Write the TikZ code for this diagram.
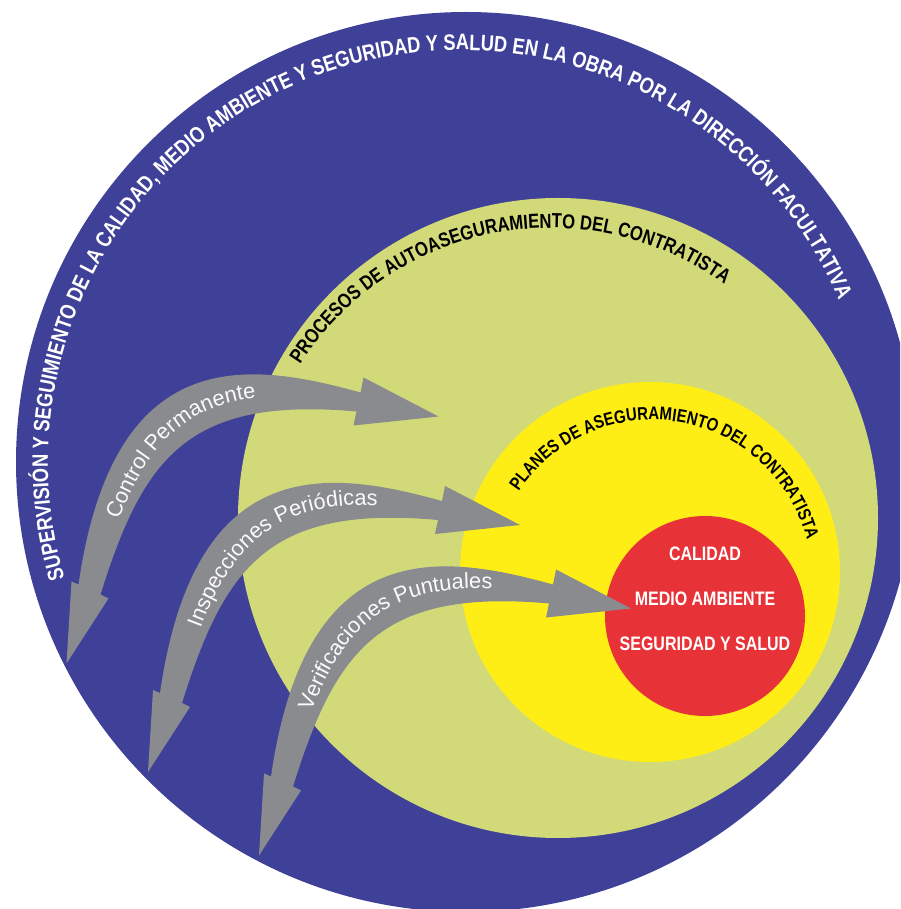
\documentclass[tikz,border=0pt]{standalone}
\usepackage{fontspec}
\usetikzlibrary{decorations.text}

\newfontfamily\labelsans{Liberation Sans}
\newfontfamily\capsnarrow[FakeStretch=0.82]{Liberation Sans}

\definecolor{ringblue}{RGB}{63,64,151}
\definecolor{ringgreen}{RGB}{210,217,121}
\definecolor{ringyellow}{RGB}{254,238,22}
\definecolor{ringred}{RGB}{231,50,56}
\definecolor{arrowgray}{RGB}{137,139,143}
\definecolor{arrowtext}{RGB}{250,250,250}

\newcommand\ringfont{\capsnarrow\bfseries\fontsize{12.7}{15}\selectfont}
\newcommand\greenfont{\capsnarrow\bfseries\fontsize{11.55}{14}\selectfont}
\newcommand\yellowfont{\capsnarrow\bfseries\fontsize{10.4}{12}\selectfont}
\newcommand\arrowfont{\labelsans\fontsize{12.4}{14}\selectfont}

\tikzset{
	coretext/.style = {font = \capsnarrow\bfseries\fontsize{11.1}{13}\selectfont, text = white, inner sep = 0pt, anchor = base}
}

\begin{document}
\begin{tikzpicture}
	 \useasboundingbox (0, 0) rectangle (18, 18.18);
	 \clip (0, 0) rectangle (18, 18.18);
	 
	 % rings
	 \fill[ringblue] (9.32, 8.94) circle (9.0);
	 \fill[ringgreen] (11.16, 7.82) circle (6.40);
	 \fill[ringyellow] (13.00, 6.74) circle (3.80);
	 \fill[ringred] (14.10, 5.86) circle (2.00);
	 
	 % curved titles
	 \path[shift = {(9.20, 8.94)}, decorate, decoration = {text along path, text color = white, text align = center,
	 text = {|\ringfont|SUPERVISIÓN Y SEGUIMIENTO DE LA CALIDAD, MEDIO AMBIENTE Y SEGURIDAD Y SALUD EN LA OBRA POR LA DIRECCIÓN FACULTATIVA}}]
	 (206.3:8.24) arc[start angle = 206.3, end angle = 13.3, radius = 8.24];
	 
	 \path[shift = {(11.00, 7.68)}, decorate, decoration = {text along path, text color = black, text align = center,
	 text = {|\greenfont|PROCESOS DE AUTOASEGURAMIENTO DEL CONTRATISTA}}]
	 (157.4:5.94) arc[start angle = 157.4, end angle = 43.9, radius = 5.94];
	 
	 \path[shift = {(13.04, 6.58)}, decorate, decoration = {text along path, text color = black, text align = center,
	 text = {|\yellowfont|PLANES DE ASEGURAMIENTO DEL CONTRATISTA}}]
	 (156.2:3.20) arc[start angle = 156.2, end angle = 4.7, radius = 3.20];
	 
	 % double arrows
	 \foreach \sx/\sy/\lbl in {-1.63/2.17/Control Permanente, 0/0/Inspecciones Periódicas, 2.22/-1.67/Verificaciones Puntuales}
	 {
	 \begin{scope}[shift = {(\sx, \sy)}]
	 \fill[arrowgray] (10.40, 7.68) -- (8.90, 8.46) -- (8.84, 8.16) .. controls (6.60, 8.78) and (3.90, 9.18) .. (3.20, 4.32)
	 -- (3.06, 4.38) -- (2.96, 2.74) -- (3.80, 4.04) -- (3.64, 4.12) .. controls (4.50, 6.88) and (5.40, 8.08) .. (8.76, 7.78)
	 -- (8.70, 7.50) -- cycle;
	 \path[decorate, decoration = {text along path, text color = arrowtext, text align = {left indent = 1.45cm},
	 text/.expanded = {|\noexpand\arrowfont|\lbl}}]
	 (3.60, 4.22) .. controls (4.48, 7.98) and (6.00, 8.34) .. (8.80, 7.96);
	 \end{scope}
	 }
	 
	 % core
	 \node[coretext] (calidad) at (14.10, 6.96) {CALIDAD};
	 \node[coretext] (medio) at (14.10, 6.06) {MEDIO AMBIENTE};
	 \node[coretext] (salud) at (14.10, 5.16) {SEGURIDAD Y SALUD};
\end{tikzpicture}
\end{document}
